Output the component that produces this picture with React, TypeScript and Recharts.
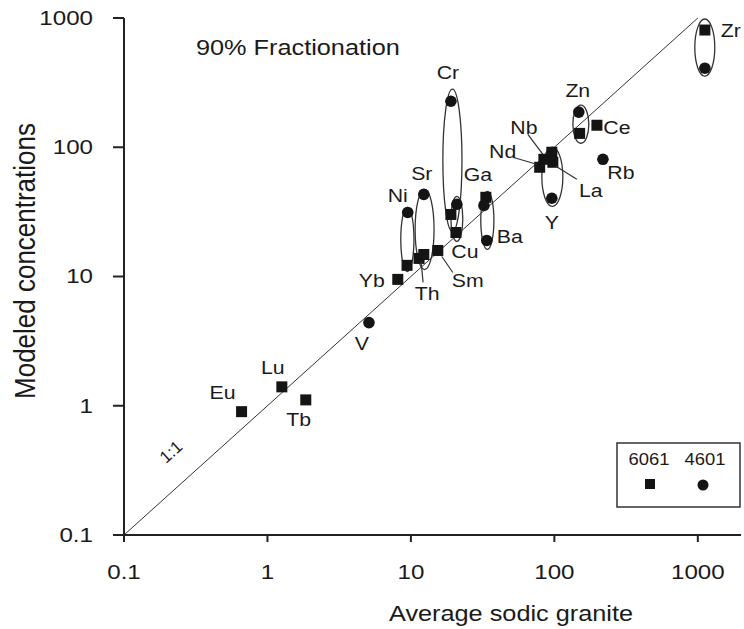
import React from "react";
import {
  ScatterChart,
  Scatter,
  XAxis,
  YAxis,
  ReferenceLine,
  ReferenceArea,
  ReferenceDot,
  Customized,
} from "recharts";

const X_TICKS = [0.1, 1, 10, 100, 1000];
const Y_TICKS = [0.1, 1, 10, 100, 1000];

// sample 6061 (squares)
const SQUARE_NAMES = ["Eu", "Lu", "Tb", "Yb", "Ni", "Th", "Sr", "Sm", "Cr", "Cu", "Ba", "Nd", "Nb", "La", "La", "Zn", "Ce", "Zr"];
const SQUARE_X = [0.66, 1.26, 1.85, 8.1, 9.4, 11.4, 12.3, 15.4, 19.0, 20.6, 33.3, 79, 84.5, 96, 97.6, 150, 198, 1120];
const SQUARE_Y = [0.9, 1.4, 1.11, 9.5, 12.2, 13.8, 14.8, 15.9, 30.2, 21.9, 41, 70, 80.7, 91.5, 76.5, 128, 148, 807];

// sample 4601 (circles)
const CIRCLE_NAMES = ["V", "Ni", "Sr", "Cr", "Ga", "Ba", "Ba", "Y", "Zn", "Rb", "Zr"];
const CIRCLE_X = [5.1, 9.5, 12.3, 19.0, 20.9, 32.3, 33.8, 96, 148, 218, 1120];
const CIRCLE_Y = [4.4, 31.3, 43.2, 227, 36.2, 35.5, 19.0, 40.3, 187, 80.7, 409];

// ellipses grouping the pairs
const GROUP_NAMES = ["Ni", "Sr", "Cr", "Ga", "Ba", "Y", "Zn", "Zr"];
const GROUP_X = [[8.5, 10.5], [10.7, 14.5], [16.7, 22.7], [19.0, 23.0], [30.7, 37.9], [81.8, 114.6], [134.6, 173.9], [953, 1313]];
const GROUP_Y = [[10.9, 34.3], [11.3, 47.2], [22.3, 282], [18.7, 41.7], [16.2, 45.6], [34.9, 100], [107.4, 211.6], [355, 982]];

const squares = SQUARE_X.map((x, i) => ({ x, y: SQUARE_Y[i], name: SQUARE_NAMES[i] }));
const circles = CIRCLE_X.map((x, i) => ({ x, y: CIRCLE_Y[i], name: CIRCLE_NAMES[i] }));

// label placement next to a point (pixel offsets), optional leader line
type Lab = { s: "sq" | "ci"; i: number; dx: number; dy: number; line?: number[] };
const LABELS: Lab[] = [
  { s: "sq", i: 0, dx: -19, dy: -19 },
  { s: "sq", i: 1, dx: -9, dy: -19 },
  { s: "sq", i: 2, dx: -7, dy: 20 },
  { s: "ci", i: 0, dx: -7, dy: 21 },
  { s: "sq", i: 3, dx: -26, dy: 1 },
  { s: "ci", i: 1, dx: -10, dy: -17 },
  { s: "ci", i: 2, dx: -2, dy: -21 },
  { s: "ci", i: 3, dx: -3, dy: -29 },
  { s: "ci", i: 4, dx: 21, dy: -30 },
  { s: "sq", i: 9, dx: 9, dy: 19 },
  { s: "ci", i: 6, dx: 23, dy: -4 },
  { s: "ci", i: 7, dx: 0, dy: 24 },
  { s: "ci", i: 8, dx: -1, dy: -22 },
  { s: "sq", i: 16, dx: 20, dy: 2 },
  { s: "ci", i: 9, dx: 18, dy: 13 },
  { s: "sq", i: 17, dx: 26, dy: 0 },
  { s: "sq", i: 5, dx: 8, dy: 35, line: [2, 3, 4, 24] },
  { s: "sq", i: 7, dx: 30, dy: 30, line: [4, 6, 15, 22] },
  { s: "sq", i: 12, dx: -20, dy: -32, line: [-1, -5, -16, -25] },
  { s: "sq", i: 11, dx: -37, dy: -16, line: [-3, -3, -27, -10] },
  { s: "sq", i: 14, dx: 38, dy: 28, line: [3, 4, 24, 17] },
];

const FONT = "'Liberation Sans', Arial, Helvetica, sans-serif";
const INK = "#1a1a1a";
const SX = 1.15;

function SText({ x, y, size, anchor = "middle", children }: any) {
  return (
    <text
      transform={`translate(${x},${y}) scale(${SX},1)`}
      fontSize={size}
      textAnchor={anchor}
      dominantBaseline="central"
      fill={INK}
      fontFamily={FONT}
    >
      {children}
    </text>
  );
}

const YTick = (p: any) => (
  <SText x={p.x} y={p.y} size={21} anchor="end">
    {String(p.payload.value)}
  </SText>
);

const XTick = (p: any) => (
  <SText x={p.x} y={p.y + 10} size={21}>
    {String(p.payload.value)}
  </SText>
);

const squareShape = (p: any) => (
  <rect x={p.cx - 5.5} y={p.cy - 5.5} width={11} height={11} fill="#141414" />
);
const circleShape = (p: any) => <circle cx={p.cx} cy={p.cy} r={5.8} fill="#141414" />;

const Extras = () => (
  <g>
    <SText x={196} y={48} size={22} anchor="start">
      90% Fractionation
    </SText>
    <SText x={511} y={614} size={22}>
      Average sodic granite
    </SText>
    <text
      transform={`translate(25,261) rotate(-90) scale(1,${SX})`}
      fontSize={26}
      textAnchor="middle"
      dominantBaseline="central"
      fill={INK}
      fontFamily={FONT}
    >
      Modeled concentrations
    </text>
    <text
      transform="translate(171,452) rotate(-42)"
      fontSize={17}
      textAnchor="middle"
      dominantBaseline="central"
      fill={INK}
      fontFamily={FONT}
    >
      1:1
    </text>
    {/* legend */}
    <rect x={617} y={443} width={123} height={64} fill="#fff" stroke="#333" strokeWidth={1.5} />
    <SText x={649} y={459} size={16}>
      6061
    </SText>
    <SText x={705} y={459} size={16}>
      4601
    </SText>
    <rect x={645} y={479} width={10} height={10} fill="#141414" />
    <circle cx={703} cy={485} r={5.5} fill="#141414" />
  </g>
);

export default function App() {
  return (
    <div style={{ position: "absolute", left: 0, top: 0, background: "#fff" }}>
      <ScatterChart width={744} height={629} margin={{ top: 18, right: 3, bottom: 0, left: 0 }}>
        <XAxis
          type="number"
          dataKey="x"
          scale="log"
          domain={[0.1, 2000]}
          ticks={X_TICKS}
          allowDataOverflow
          height={94}
          axisLine={{ stroke: "#222", strokeWidth: 2 }}
          tickLine={{ stroke: "#222", strokeWidth: 2 }}
          tickSize={7}
          tickMargin={20}
          tick={XTick}
        />
        <YAxis
          type="number"
          dataKey="y"
          scale="log"
          domain={[0.1, 1000]}
          ticks={Y_TICKS}
          allowDataOverflow
          width={124}
          axisLine={{ stroke: "#222", strokeWidth: 2 }}
          tickLine={{ stroke: "#222", strokeWidth: 2 }}
          tickSize={11}
          tickMargin={20}
          tick={YTick}
        />
        <ReferenceLine
          segment={[
            { x: 0.1, y: 0.1 },
            { x: 1000, y: 1000 },
          ]}
          stroke="#333"
          strokeWidth={1}
          ifOverflow="visible"
        />
        {GROUP_NAMES.map((g, i) => (
          <ReferenceArea
            key={g}
            x1={GROUP_X[i][0]}
            x2={GROUP_X[i][1]}
            y1={GROUP_Y[i][0]}
            y2={GROUP_Y[i][1]}
            ifOverflow="visible"
            shape={(p: any) => (
              <ellipse
                cx={p.x + p.width / 2}
                cy={p.y + p.height / 2}
                rx={Math.abs(p.width) / 2}
                ry={Math.abs(p.height) / 2}
                fill="none"
                stroke="#333"
                strokeWidth={1.3}
              />
            )}
          />
        ))}
        <Scatter name="6061" data={squares} shape={squareShape} isAnimationActive={false} />
        <Scatter name="4601" data={circles} shape={circleShape} isAnimationActive={false} />
        {LABELS.map((l, k) => {
          const pt = l.s === "sq" ? squares[l.i] : circles[l.i];
          return (
            <ReferenceDot
              key={k}
              x={pt.x}
              y={pt.y}
              r={0}
              ifOverflow="visible"
              shape={(p: any) => (
                <g>
                  {l.line && (
                    <line
                      x1={p.cx + l.line[0]}
                      y1={p.cy + l.line[1]}
                      x2={p.cx + l.line[2]}
                      y2={p.cy + l.line[3]}
                      stroke="#333"
                      strokeWidth={1.2}
                    />
                  )}
                  <SText x={p.cx + l.dx} y={p.cy + l.dy} size={18.5}>
                    {pt.name}
                  </SText>
                </g>
              )}
            />
          );
        })}
        <Customized component={Extras} />
      </ScatterChart>
    </div>
  );
}
